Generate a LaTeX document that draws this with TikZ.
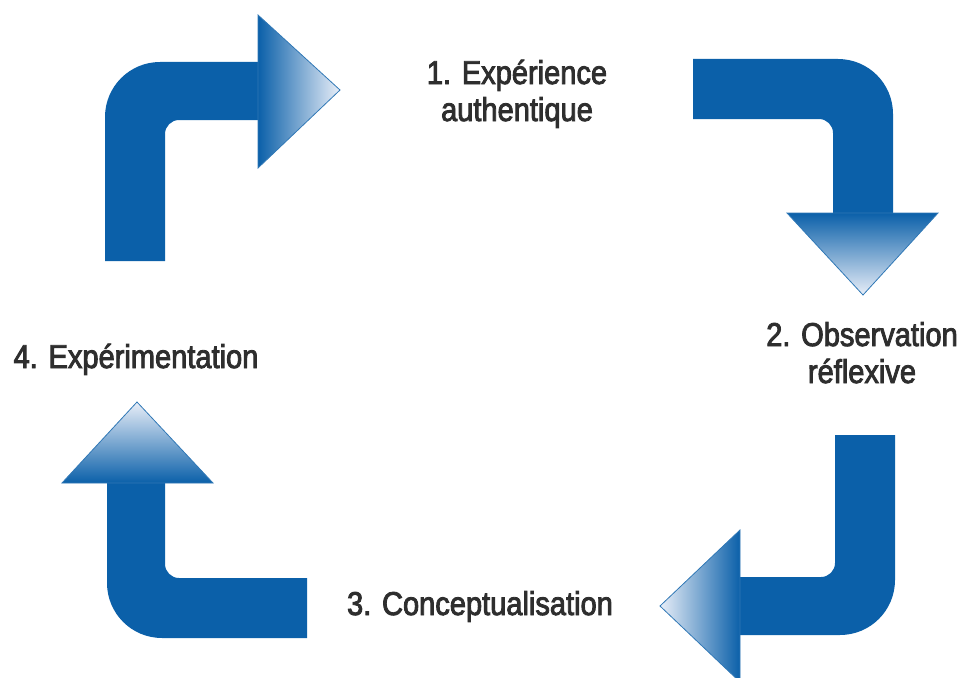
\documentclass[tikz,border=0pt]{standalone}
\usepackage{fontspec}
\setmainfont{Liberation Sans}[FakeStretch=0.88,FakeBold=2.6]
\definecolor{mainblue}{HTML}{0B60A9}
\definecolor{midblue}{HTML}{2D6AB2}
\definecolor{tipblue}{HTML}{E8EEF8}
\definecolor{txt}{HTML}{2E2E2E}
\tikzset{
  shaft/.style={fill=mainblue, draw=none},
  headbox/.style={draw=mainblue!85!white, line width=0.8pt, line join=miter},
  lbl/.style={text=txt, inner sep=0pt, align=center, anchor=base,
    font=\fontsize{33}{37}\selectfont}
}
\begin{document}
\begin{tikzpicture}[x=1pt,y=-1pt]
\useasboundingbox (0,0) rectangle (963,677);
\clip (0,0) rectangle (963,677);
% Arrow 1 (top left, pointing right)
\fill[shaft] (105,261) -- (105,117) .. controls (105,86.6) and (129.6,62) .. (160,62)
  -- (260,62) -- (260,120) -- (179,120) .. controls (171.3,120) and (165,126.3) .. (165,134)
  -- (165,261) -- cycle;
\shade[headbox, left color=mainblue, middle color=midblue, right color=tipblue]
  (258,15) -- (340,90) -- (258,168) -- cycle;
% Arrow 2 (top right, pointing down)
\fill[shaft] (693,59) -- (838,59) .. controls (868.4,59) and (893,83.6) .. (893,114)
  -- (893,215) -- (833,215) -- (833,133) .. controls (833,125.3) and (826.7,119) .. (819,119)
  -- (693,119) -- cycle;
\shade[headbox, top color=mainblue, middle color=midblue, bottom color=tipblue]
  (787,213) -- (938,213) -- (863,295) -- cycle;
% Arrow 3 (bottom right, pointing left)
\fill[shaft] (835,435) -- (895,435) -- (895,580) .. controls (895,610.4) and (870.4,635) .. (840,635)
  -- (738,635) -- (738,577) -- (821,577) .. controls (828.7,577) and (835,570.7) .. (835,563)
  -- cycle;
\shade[headbox, right color=mainblue, middle color=midblue, left color=tipblue]
  (740,530) -- (660,606) -- (740,682) -- cycle;
% Arrow 4 (bottom left, pointing up)
\fill[shaft] (107,481) -- (107,583) .. controls (107,613.4) and (131.6,638) .. (162,638)
  -- (307,638) -- (307,578) -- (179,578) .. controls (171.3,578) and (165,571.7) .. (165,564)
  -- (165,481) -- cycle;
\shade[headbox, bottom color=mainblue, middle color=midblue, top color=tipblue]
  (62,483) -- (137,402) -- (213,483) -- cycle;
% Labels (anchor base = baseline of the last line)
\node[lbl] (l1) at (517,121) {1. Expérience\\authentique};
\node[lbl] (l2) at (862,383) {2. Observation\\réflexive};
\node[lbl] (l3) at (480,615) {3. Conceptualisation};
\node[lbl] (l4) at (136,368) {4. Expérimentation};
\end{tikzpicture}
\end{document}
